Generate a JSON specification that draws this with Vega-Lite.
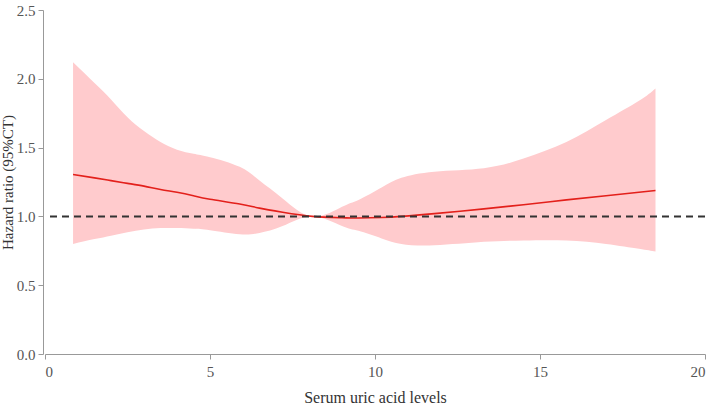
{
  "$schema": "https://vega.github.io/schema/vega-lite/v6.json",
  "width": 660,
  "height": 344,
  "autosize": {"type": "none"},
  "padding": {"left": 45, "top": 10, "right": 10, "bottom": 53},
  "config": {
    "view": {"stroke": null},
    "axis": {"labelFont": "Liberation Serif", "titleFont": "Liberation Serif", "labelColor": "#555", "titleColor": "#333", "domainColor": "#999", "tickColor": "#999", "grid": false, "titleFontWeight": "normal", "labelFontSize": 15, "titleFontSize": 16}
  },
  "data": {"values": [
    {"x": 0.85, "lo": 0.80, "hi": 2.12, "hr": 1.305},
    {"x": 1.5, "lo": 0.835, "hi": 1.97, "hr": 1.28},
    {"x": 2.0, "lo": 0.86, "hi": 1.85, "hr": 1.26},
    {"x": 2.5, "lo": 0.885, "hi": 1.72, "hr": 1.24},
    {"x": 3.0, "lo": 0.905, "hi": 1.62, "hr": 1.22},
    {"x": 3.5, "lo": 0.915, "hi": 1.54, "hr": 1.195},
    {"x": 4.0, "lo": 0.915, "hi": 1.485, "hr": 1.175},
    {"x": 4.5, "lo": 0.91, "hi": 1.455, "hr": 1.15},
    {"x": 5.0, "lo": 0.9, "hi": 1.43, "hr": 1.125},
    {"x": 5.9, "lo": 0.87, "hi": 1.36, "hr": 1.09},
    {"x": 6.5, "lo": 0.88, "hi": 1.26, "hr": 1.06},
    {"x": 7.2, "lo": 0.93, "hi": 1.13, "hr": 1.03},
    {"x": 8.1, "lo": 1.0, "hi": 1.0, "hr": 1.0},
    {"x": 9.0, "lo": 0.93, "hi": 1.07, "hr": 0.99},
    {"x": 9.5, "lo": 0.895, "hi": 1.12, "hr": 0.988},
    {"x": 10.2, "lo": 0.84, "hi": 1.21, "hr": 0.992},
    {"x": 10.8, "lo": 0.80, "hi": 1.28, "hr": 1.0},
    {"x": 11.8, "lo": 0.79, "hi": 1.325, "hr": 1.02},
    {"x": 13.3, "lo": 0.815, "hi": 1.35, "hr": 1.055},
    {"x": 14.5, "lo": 0.825, "hi": 1.42, "hr": 1.085},
    {"x": 15.8, "lo": 0.825, "hi": 1.54, "hr": 1.12},
    {"x": 17.0, "lo": 0.80, "hi": 1.70, "hr": 1.15},
    {"x": 18.0, "lo": 0.765, "hi": 1.84, "hr": 1.175},
    {"x": 18.5, "lo": 0.745, "hi": 1.93, "hr": 1.188}
  ]},
  "layer": [
    {
      "mark": {"type": "area", "color": "#ffcbcd", "interpolate": "natural", "opacity": 1},
      "encoding": {
        "x": {"field": "x", "type": "quantitative", "scale": {"domain": [0, 20], "nice": false}, "axis": {"title": "Serum uric acid levels", "values": [0, 5, 10, 15, 20], "titlePadding": 10, "labelPadding": 5}},
        "y": {"field": "lo", "type": "quantitative", "scale": {"domain": [0, 2.5], "nice": false}, "axis": {"title": "Hazard ratio (95%CT)", "values": [0, 0.5, 1, 1.5, 2, 2.5], "format": ".1f", "offset": 2, "titlePadding": 1, "titleFontSize": 15, "labelPadding": 3}},
        "y2": {"field": "hi"}
      }
    },
    {
      "mark": {"type": "line", "color": "#e3201b", "strokeWidth": 1.6, "interpolate": "natural"},
      "encoding": {
        "x": {"field": "x", "type": "quantitative"},
        "y": {"field": "hr", "type": "quantitative"}
      }
    },
    {
      "data": {"values": [{"ref": 1}]},
      "mark": {"type": "rule", "color": "#333", "strokeWidth": 2, "strokeDash": [7, 5]},
      "encoding": {"y": {"field": "ref", "type": "quantitative"}}
    }
  ]
}
